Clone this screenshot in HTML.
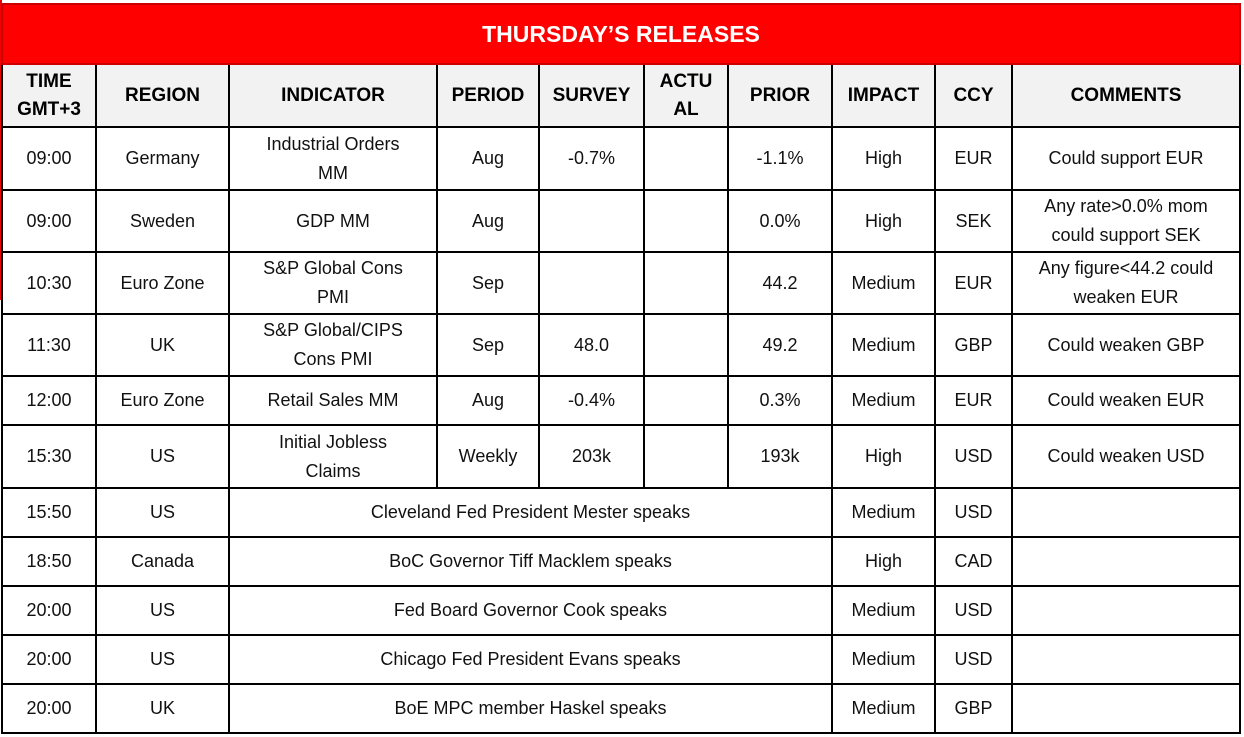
<!DOCTYPE html>
<html><head><style>
body{margin:0;background:#fff;width:1244px;height:737px;overflow:hidden;position:relative;font-family:"Liberation Sans",Arial,sans-serif;}
.redl{position:absolute;left:0;top:0;width:2px;height:300px;background:#e00;}
table{position:absolute;left:1px;top:3px;border-collapse:collapse;table-layout:fixed;}
td{border:2px solid #000;text-align:center;vertical-align:middle;font-size:18px;color:#111;line-height:29px;padding:0 2px;}
.title td{background:#ff0000;color:#fff;font-weight:bold;font-size:23px;border-color:#c00;}
.hdr td{background:#f2f2f2;font-weight:bold;font-size:19px;color:#000;line-height:28px;}
</style></head><body>
<div class="redl"></div>
<table>
<colgroup><col style="width:94px"><col style="width:133px"><col style="width:208px"><col style="width:102px"><col style="width:105px"><col style="width:84px"><col style="width:104px"><col style="width:103px"><col style="width:77px"><col style="width:228px"></colgroup>
<tr class="title" style="height:60px"><td colspan="10">THURSDAY’S RELEASES</td></tr>
<tr class="hdr" style="height:63px"><td>TIME<br>GMT+3</td><td>REGION</td><td>INDICATOR</td><td>PERIOD</td><td>SURVEY</td><td>ACTU<br>AL</td><td>PRIOR</td><td>IMPACT</td><td>CCY</td><td>COMMENTS</td></tr>
<tr style="height:63px"><td>09:00</td><td>Germany</td><td>Industrial Orders<br>MM</td><td>Aug</td><td>-0.7%</td><td></td><td>-1.1%</td><td>High</td><td>EUR</td><td>Could support EUR</td></tr>
<tr style="height:62px"><td>09:00</td><td>Sweden</td><td>GDP MM</td><td>Aug</td><td></td><td></td><td>0.0%</td><td>High</td><td>SEK</td><td>Any rate&gt;0.0% mom<br>could support SEK</td></tr>
<tr style="height:62px"><td>10:30</td><td>Euro Zone</td><td>S&amp;P Global Cons<br>PMI</td><td>Sep</td><td></td><td></td><td>44.2</td><td>Medium</td><td>EUR</td><td>Any figure&lt;44.2 could<br>weaken EUR</td></tr>
<tr style="height:62px"><td>11:30</td><td>UK</td><td>S&amp;P Global/CIPS<br>Cons PMI</td><td>Sep</td><td>48.0</td><td></td><td>49.2</td><td>Medium</td><td>GBP</td><td>Could weaken GBP</td></tr>
<tr style="height:49px"><td>12:00</td><td>Euro Zone</td><td>Retail Sales MM</td><td>Aug</td><td>-0.4%</td><td></td><td>0.3%</td><td>Medium</td><td>EUR</td><td>Could weaken EUR</td></tr>
<tr style="height:63px"><td>15:30</td><td>US</td><td>Initial Jobless<br>Claims</td><td>Weekly</td><td>203k</td><td></td><td>193k</td><td>High</td><td>USD</td><td>Could weaken USD</td></tr>
<tr style="height:49px"><td>15:50</td><td>US</td><td colspan="5">Cleveland Fed President Mester speaks</td><td>Medium</td><td>USD</td><td></td></tr>
<tr style="height:49px"><td>18:50</td><td>Canada</td><td colspan="5">BoC Governor Tiff Macklem speaks</td><td>High</td><td>CAD</td><td></td></tr>
<tr style="height:49px"><td>20:00</td><td>US</td><td colspan="5">Fed Board Governor Cook speaks</td><td>Medium</td><td>USD</td><td></td></tr>
<tr style="height:49px"><td>20:00</td><td>US</td><td colspan="5">Chicago Fed President Evans speaks</td><td>Medium</td><td>USD</td><td></td></tr>
<tr style="height:49px"><td>20:00</td><td>UK</td><td colspan="5">BoE MPC member Haskel speaks</td><td>Medium</td><td>GBP</td><td></td></tr>
</table>
</body></html>
